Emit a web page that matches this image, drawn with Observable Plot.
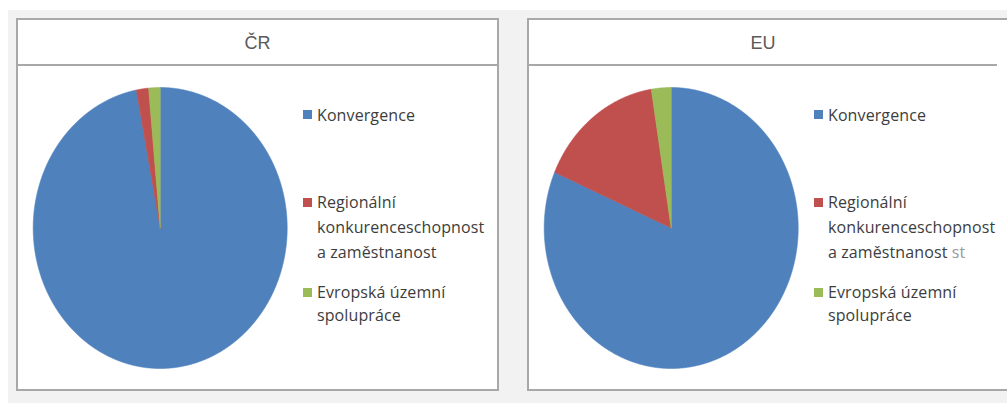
<!DOCTYPE html>
<html>
<head>
<meta charset="utf-8">
<script src="https://cdn.jsdelivr.net/npm/d3@7"></script>
<script src="https://cdn.jsdelivr.net/npm/@observablehq/plot@0.6"></script>
<style>
  html, body { margin: 0; padding: 0; background: #ffffff; }
  #page { position: relative; width: 1007px; height: 403px; overflow: hidden; background: #ffffff; }
  #bg { position: absolute; left: 8px; top: 10px; right: 0; bottom: 0; background: #f2f2f2; }
  .panel { position: absolute; top: 18px; height: 373px; box-sizing: border-box; border: 2px solid #a8a8a8; background: #ffffff; }
  .title { position: absolute; left: 0; top: 0; height: 46px; box-sizing: border-box; border-bottom: 2px solid #a8a8a8;
           font-family: "Liberation Sans", Arial, sans-serif; font-size: 18px; color: #5a5a5a; text-align: center; line-height: 46px; }
  .chart { position: absolute; top: 66px; }
  .sq { position: absolute; width: 9px; height: 9px; }
  .lg { position: absolute; font-family: "Open Sans", sans-serif; font-size: 16px; color: #3d3d3d; line-height: 20px; white-space: nowrap; letter-spacing: 0.1px; }
  .faint { color: #9a9a9a; }
</style>
</head>
<body>
<div id="page"><div id="bg"></div></div>
<script>
// ---- data ----
const categories = ["Konvergence", "Regionální konkurenceschopnost a zaměstnanost", "Evropská územní spolupráce"];
const legendLines = [["Konvergence"], ["Regionální", "konkurenceschopnost", "a zaměstnanost"], ["Evropská územní", "spolupráce"]];
const colors = ["#4f81bd", "#c0504d", "#9bbb59"];
const panelTitles = ["ČR", "EU"];
const valuesCR = [97.0, 1.55, 1.45];
const valuesEU = [81.5, 16.0, 2.5];

// ---- layout ----
const panels = [
  {title: panelTitles[0], values: valuesCR, left: 16, width: 483, titleWidth: 479, extra: ""},
  {title: panelTitles[1], values: valuesEU, left: 527, width: 490, titleWidth: 468, extra: " st"}
];
const svgTop = 66;
const cx = 143.7, cy = 227.5 - svgTop, rx = 127, ry = 140.5;
const itemBaselines = [120.7, 208, 298];
const lineStep = [25, 25, 22.5];

function slicePoints(values) {
  const arcs = d3.pie().sort(null).value(d => d)(values);
  const pts = [];
  arcs.forEach((a, i) => {
    const name = categories[i];
    pts.push({name, x: 0, y: 0});
    const n = Math.max(2, Math.ceil((a.endAngle - a.startAngle) / 0.004));
    for (let k = 0; k <= n; k++) {
      const t = a.startAngle + (a.endAngle - a.startAngle) * k / n;
      pts.push({name, x: Math.sin(t), y: Math.cos(t)});
    }
    pts.push({name, x: 0, y: 0});
  });
  return pts;
}

const page = document.getElementById("page");
panels.forEach(p => {
  const panel = document.createElement("div");
  panel.className = "panel";
  panel.style.left = p.left + "px";
  panel.style.width = p.width + "px";
  const title = document.createElement("div");
  title.className = "title";
  title.style.width = p.titleWidth + "px";
  title.textContent = p.title;
  panel.appendChild(title);
  page.appendChild(panel);

  const chart = Plot.plot({
    width: 300, height: 322, margin: 0,
    style: {background: "transparent"},
    x: {domain: [-1, 1], range: [cx - rx, cx + rx], axis: null},
    y: {domain: [-1, 1], range: [cy + ry, cy - ry], axis: null},
    color: {domain: categories, range: colors},
    marks: [
      Plot.line(slicePoints(p.values), {x: "x", y: "y", z: "name", fill: "name", stroke: "name", strokeWidth: 0.6, curve: "linear"})
    ]
  });
  const wrap = document.createElement("div");
  wrap.className = "chart";
  wrap.style.left = p.left + "px";
  wrap.appendChild(chart);
  page.appendChild(wrap);

  legendLines.forEach((lines, i) => {
    const sq = document.createElement("div");
    sq.className = "sq";
    sq.style.background = colors[i];
    sq.style.left = (p.left + 287) + "px";
    sq.style.top = (itemBaselines[i] - 10.5) + "px";
    page.appendChild(sq);
    lines.forEach((txt, j) => {
      const d = document.createElement("div");
      d.className = "lg";
      d.style.left = (p.left + 301) + "px";
      d.style.top = (itemBaselines[i] + j * lineStep[i] - 16) + "px";
      d.textContent = txt;
      if (i === 1 && j === 2 && p.extra) {
        const s = document.createElement("span");
        s.className = "faint";
        s.textContent = p.extra;
        d.appendChild(s);
      }
      page.appendChild(d);
    });
  });
});
</script>
</body>
</html>
